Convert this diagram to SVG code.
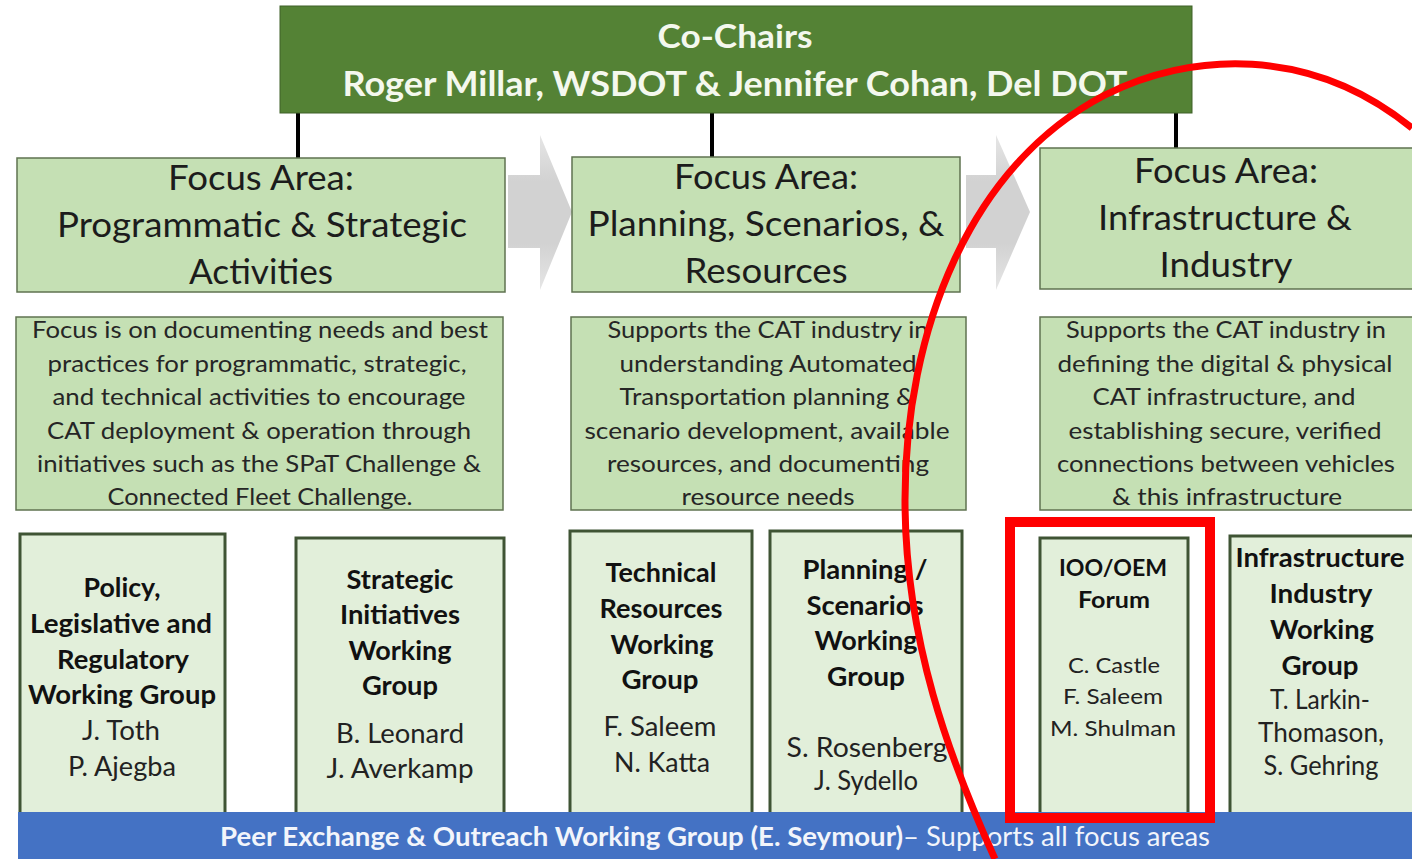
<svg xmlns="http://www.w3.org/2000/svg" width="1412" height="859" viewBox="0 0 1412 859">
<style>
text{font-family:Lato,"Liberation Sans",sans-serif;text-anchor:middle}
.top{fill:#548235;stroke:#3e6128;stroke-width:1}
.topt{fill:#f4f8ee;font-weight:bold}
.fa{fill:#c5e0b4;stroke:#5f7350;stroke-width:1.5}
.fat{fill:#1c1c1c;font-size:34px}
.ds{fill:#262626;font-size:24px}
.wg{fill:#e2efda;stroke:#3f5434;stroke-width:3}
.wb{fill:#111;font-size:26px;font-weight:bold}
.wn{fill:#222;font-size:26px}
.wb5{fill:#111;font-size:22px;font-weight:bold}
.wn5{fill:#222;font-size:22px}
.conn{stroke:#000;stroke-width:4}
.arr{fill:url(#ag)}
.hl{fill:none;stroke:#ff0000}
</style>
<defs>
<linearGradient id="ag" x1="0" y1="0" x2="0" y2="1">
<stop offset="0" stop-color="#e6e6e6"/>
<stop offset="0.3" stop-color="#d2d2d2"/>
<stop offset="0.7" stop-color="#d2d2d2"/>
<stop offset="1" stop-color="#e6e6e6"/>
</linearGradient>
</defs>
<rect width="1412" height="859" fill="#fff"/>

<g id="arrows">
<path class="arr" d="M508 175 H540 V135 L572 212 L540 290 V248 H508 Z"/>
<path class="arr" d="M966 175 H996 V135 L1030 212 L996 290 V248 H966 Z"/>
</g>

<g id="connectors">
<line class="conn" x1="298" y1="113" x2="298" y2="158"/>
<line class="conn" x1="712" y1="113" x2="712" y2="157"/>
<line class="conn" x1="1176" y1="113" x2="1176" y2="148"/>
</g>

<g id="cochairs">
<rect class="top" x="280" y="6" width="912" height="107"/>
<text class="topt" x="735" y="48" font-size="32" textLength="155" lengthAdjust="spacingAndGlyphs">Co-Chairs</text>
<text class="topt" x="735" y="96" font-size="34" textLength="785" lengthAdjust="spacingAndGlyphs">Roger Millar, WSDOT &amp; Jennifer Cohan, Del DOT</text>
</g>

<g id="focus1">
<rect class="fa" x="17" y="158" width="488" height="134"/>
<text class="fat" x="261" y="190" textLength="186" lengthAdjust="spacingAndGlyphs">Focus Area:</text>
<text class="fat" x="262" y="237" textLength="410" lengthAdjust="spacingAndGlyphs">Programmatic &amp; Strategic</text>
<text class="fat" x="261" y="284" textLength="144" lengthAdjust="spacingAndGlyphs">Activities</text>
</g>
<g id="focus2">
<rect class="fa" x="572" y="157" width="388" height="135"/>
<text class="fat" x="766" y="189" textLength="184" lengthAdjust="spacingAndGlyphs">Focus Area:</text>
<text class="fat" x="766" y="236" textLength="357" lengthAdjust="spacingAndGlyphs">Planning, Scenarios, &amp;</text>
<text class="fat" x="766" y="283" textLength="163" lengthAdjust="spacingAndGlyphs">Resources</text>
</g>
<g id="focus3">
<rect class="fa" x="1040" y="148" width="380" height="141"/>
<text class="fat" x="1226" y="183" textLength="184" lengthAdjust="spacingAndGlyphs">Focus Area:</text>
<text class="fat" x="1225" y="230" textLength="254" lengthAdjust="spacingAndGlyphs">Infrastructure &amp;</text>
<text class="fat" x="1226" y="277" textLength="133" lengthAdjust="spacingAndGlyphs">Industry</text>
</g>

<g id="desc1">
<rect class="fa" x="16" y="317" width="487" height="193"/>
<text class="ds" x="260" y="338" textLength="456" lengthAdjust="spacingAndGlyphs">Focus is on documenting needs and best</text>
<text class="ds" x="257" y="372" textLength="419" lengthAdjust="spacingAndGlyphs">practices for programmatic, strategic,</text>
<text class="ds" x="259" y="405" textLength="413" lengthAdjust="spacingAndGlyphs">and technical activities to encourage</text>
<text class="ds" x="259" y="439" textLength="424" lengthAdjust="spacingAndGlyphs">CAT deployment &amp; operation through</text>
<text class="ds" x="259" y="472" textLength="444" lengthAdjust="spacingAndGlyphs">initiatives such as the SPaT Challenge &amp;</text>
<text class="ds" x="260" y="505" textLength="305" lengthAdjust="spacingAndGlyphs">Connected Fleet Challenge.</text>
</g>
<g id="desc2">
<rect class="fa" x="571" y="317" width="395" height="193"/>
<text class="ds" x="768" y="338" textLength="321" lengthAdjust="spacingAndGlyphs">Supports the CAT industry in</text>
<text class="ds" x="768" y="372" textLength="297" lengthAdjust="spacingAndGlyphs">understanding Automated</text>
<text class="ds" x="767" y="405" textLength="295" lengthAdjust="spacingAndGlyphs">Transportation planning &amp;</text>
<text class="ds" x="767" y="439" textLength="365" lengthAdjust="spacingAndGlyphs">scenario development, available</text>
<text class="ds" x="768" y="472" textLength="322" lengthAdjust="spacingAndGlyphs">resources, and documenting</text>
<text class="ds" x="768" y="505" textLength="173" lengthAdjust="spacingAndGlyphs">resource needs</text>
</g>
<g id="desc3">
<rect class="fa" x="1040" y="317" width="380" height="193"/>
<text class="ds" x="1226" y="338" textLength="320" lengthAdjust="spacingAndGlyphs">Supports the CAT industry in</text>
<text class="ds" x="1225" y="372" textLength="335" lengthAdjust="spacingAndGlyphs">defining the digital &amp; physical</text>
<text class="ds" x="1224" y="405" textLength="263" lengthAdjust="spacingAndGlyphs">CAT infrastructure, and</text>
<text class="ds" x="1225" y="439" textLength="313" lengthAdjust="spacingAndGlyphs">establishing secure, verified</text>
<text class="ds" x="1226" y="472" textLength="338" lengthAdjust="spacingAndGlyphs">connections between vehicles</text>
<text class="ds" x="1227" y="505" textLength="230" lengthAdjust="spacingAndGlyphs">&amp; this infrastructure</text>
</g>

<g id="wg1">
<rect class="wg" x="20" y="534" width="205" height="285"/>
<text class="wb" x="122" y="597" textLength="77" lengthAdjust="spacingAndGlyphs">Policy,</text>
<text class="wb" x="121" y="633" textLength="182" lengthAdjust="spacingAndGlyphs">Legislative and</text>
<text class="wb" x="123" y="669" textLength="132" lengthAdjust="spacingAndGlyphs">Regulatory</text>
<text class="wb" x="122" y="704" textLength="188" lengthAdjust="spacingAndGlyphs">Working Group</text>
<text class="wn" x="121" y="740" textLength="78" lengthAdjust="spacingAndGlyphs">J. Toth</text>
<text class="wn" x="122" y="776" textLength="108" lengthAdjust="spacingAndGlyphs">P. Ajegba</text>
</g>
<g id="wg2">
<rect class="wg" x="296" y="538" width="208" height="281"/>
<text class="wb" x="400" y="589" textLength="107" lengthAdjust="spacingAndGlyphs">Strategic</text>
<text class="wb" x="400" y="624" textLength="120" lengthAdjust="spacingAndGlyphs">Initiatives</text>
<text class="wb" x="400" y="660" textLength="103" lengthAdjust="spacingAndGlyphs">Working</text>
<text class="wb" x="400" y="695" textLength="76" lengthAdjust="spacingAndGlyphs">Group</text>
<text class="wn" x="400" y="743" textLength="128" lengthAdjust="spacingAndGlyphs">B. Leonard</text>
<text class="wn" x="400" y="778" textLength="147" lengthAdjust="spacingAndGlyphs">J. Averkamp</text>
</g>
<g id="wg3">
<rect class="wg" x="570" y="531" width="182" height="288"/>
<text class="wb" x="661" y="582" textLength="111" lengthAdjust="spacingAndGlyphs">Technical</text>
<text class="wb" x="661" y="618" textLength="123" lengthAdjust="spacingAndGlyphs">Resources</text>
<text class="wb" x="662" y="654" textLength="103" lengthAdjust="spacingAndGlyphs">Working</text>
<text class="wb" x="660" y="689" textLength="77" lengthAdjust="spacingAndGlyphs">Group</text>
<text class="wn" x="660" y="736" textLength="113" lengthAdjust="spacingAndGlyphs">F. Saleem</text>
<text class="wn" x="662" y="772" textLength="96" lengthAdjust="spacingAndGlyphs">N. Katta</text>
</g>
<g id="wg4">
<rect class="wg" x="770" y="531" width="192" height="288"/>
<text class="wb" x="865" y="579" textLength="125" lengthAdjust="spacingAndGlyphs">Planning /</text>
<text class="wb" x="865" y="615" textLength="117" lengthAdjust="spacingAndGlyphs">Scenarios</text>
<text class="wb" x="866" y="650" textLength="103" lengthAdjust="spacingAndGlyphs">Working</text>
<text class="wb" x="866" y="686" textLength="78" lengthAdjust="spacingAndGlyphs">Group</text>
<text class="wn" x="867" y="757" textLength="161" lengthAdjust="spacingAndGlyphs">S. Rosenberg</text>
<text class="wn" x="866" y="790" textLength="104" lengthAdjust="spacingAndGlyphs">J. Sydello</text>
</g>
<g id="wg5">
<rect class="wg" x="1040" y="538" width="148" height="281"/>
<text class="wb5" x="1113" y="576" textLength="108" lengthAdjust="spacingAndGlyphs">IOO/OEM</text>
<text class="wb5" x="1114" y="608" textLength="72" lengthAdjust="spacingAndGlyphs">Forum</text>
<text class="wn5" x="1114" y="673" textLength="92" lengthAdjust="spacingAndGlyphs">C. Castle</text>
<text class="wn5" x="1113" y="704" textLength="100" lengthAdjust="spacingAndGlyphs">F. Saleem</text>
<text class="wn5" x="1113" y="736" textLength="126" lengthAdjust="spacingAndGlyphs">M. Shulman</text>
</g>
<g id="wg6">
<rect class="wg" x="1230" y="536" width="190" height="283"/>
<text class="wb" x="1320" y="567" textLength="169" lengthAdjust="spacingAndGlyphs">Infrastructure</text>
<text class="wb" x="1321" y="603" textLength="103" lengthAdjust="spacingAndGlyphs">Industry</text>
<text class="wb" x="1322" y="639" textLength="104" lengthAdjust="spacingAndGlyphs">Working</text>
<text class="wb" x="1320" y="675" textLength="77" lengthAdjust="spacingAndGlyphs">Group</text>
<text class="wn" x="1320" y="709" textLength="100" lengthAdjust="spacingAndGlyphs">T. Larkin-</text>
<text class="wn" x="1321" y="742" textLength="126" lengthAdjust="spacingAndGlyphs">Thomason,</text>
<text class="wn" x="1321" y="775" textLength="115" lengthAdjust="spacingAndGlyphs">S. Gehring</text>
</g>

<g id="peer">
<rect x="18" y="812" width="1400" height="50" fill="#4472c4"/>
<text x="220" y="846" font-size="26" style="text-anchor:start" fill="#f2f5fb"><tspan font-weight="bold" textLength="683" lengthAdjust="spacingAndGlyphs">Peer Exchange &amp; Outreach Working Group (E. Seymour)</tspan><tspan textLength="307" lengthAdjust="spacingAndGlyphs">– Supports all focus areas</tspan></text>
</g>

<g id="highlight">
<rect class="hl" x="1010" y="522" width="200" height="296" stroke-width="10"/>
<path class="hl" stroke-width="7" d="M995 859 C950 760 905 640 905 500 C905 330 970 165 1105 95 C1190 52 1310 45 1412 128"/>
</g>
</svg>
